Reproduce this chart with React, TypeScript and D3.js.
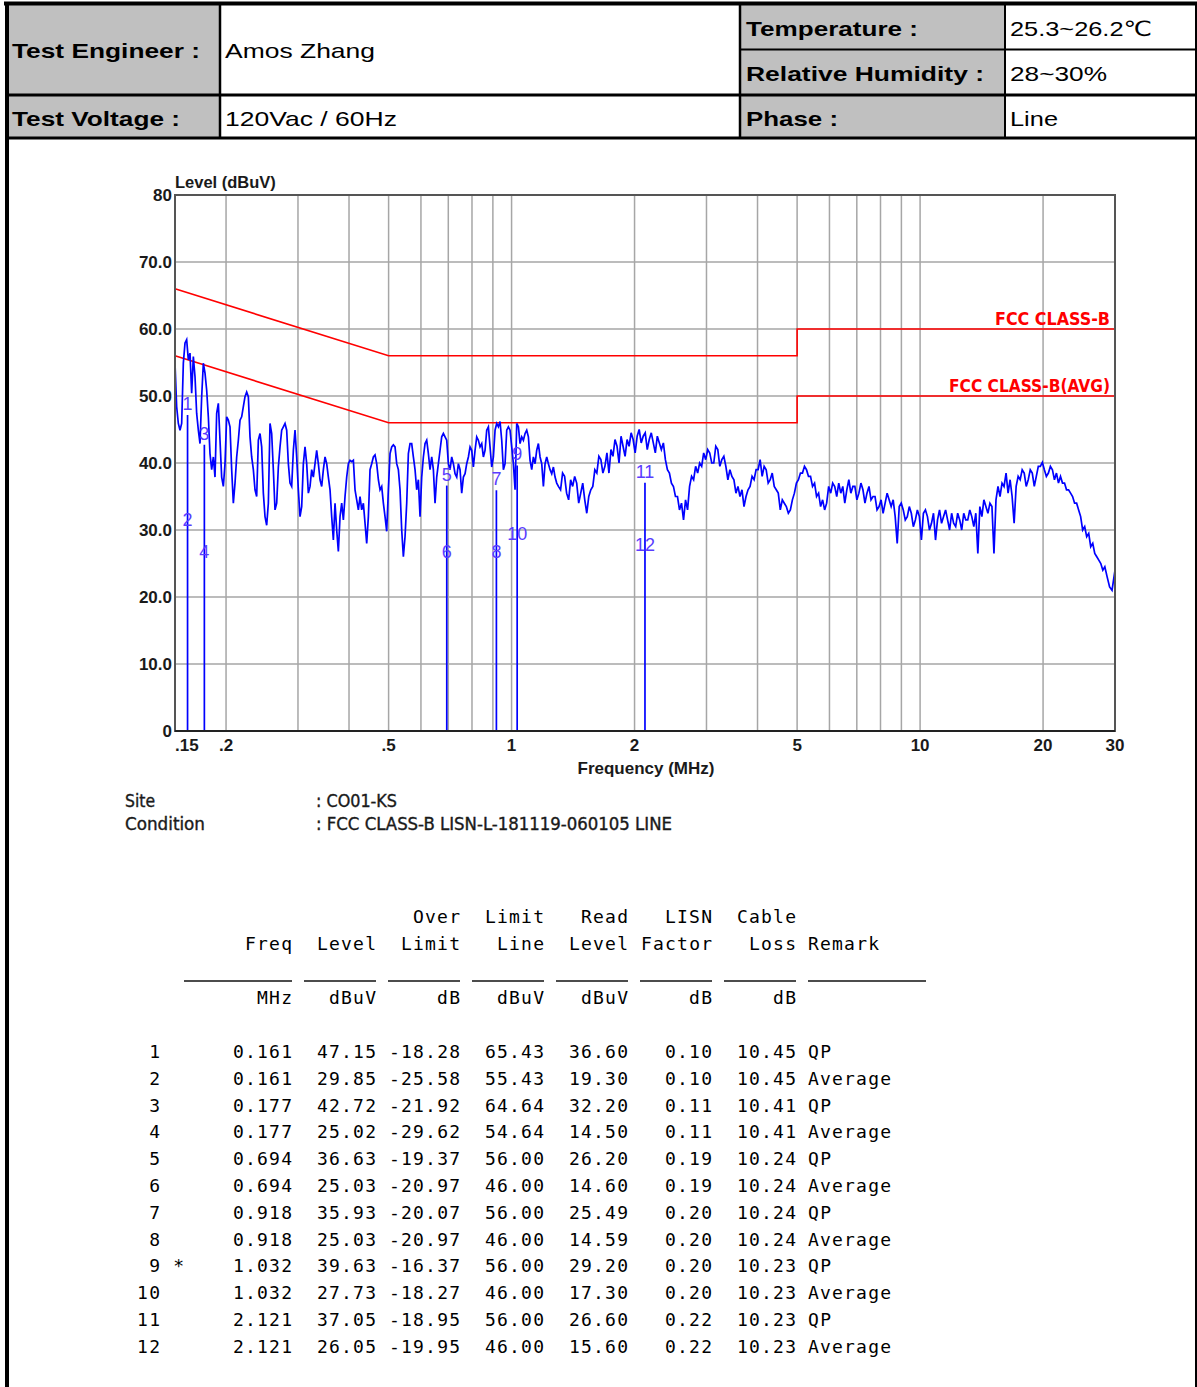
import React from "react";
import * as d3 from "d3";

// ---------------- data ----------------
const yTickValues = [0, 10, 20, 30, 40, 50, 60, 70, 80];
const yTickLabels = ["0", "10.0", "20.0", "30.0", "40.0", "50.0", "60.0", "70.0", "80"];
const xTickValues = [0.15, 0.2, 0.5, 1, 2, 5, 10, 20, 30];
const xTickLabels = [".15", ".2", ".5", "1", "2", "5", "10", "20", "30"];
const xGridValues = [0.2, 0.3, 0.4, 0.5, 0.6, 0.7, 0.8, 0.9, 1, 2, 3, 4, 5, 6, 7, 8, 9, 10, 20];

const qpLimitFreq = [0.15, 0.5, 5, 5, 30];
const qpLimitLevel = [66, 56, 56, 60, 60];
const avgLimitFreq = [0.15, 0.5, 5, 5, 30];
const avgLimitLevel = [56, 46, 46, 50, 50];

// sweep segment A: 0.15 .. 1.302 MHz (log-spaced sweep points)
const sweepAStart = 0.15;
const sweepAEnd = 1.302;
const sweepALevels = [
  54.9, 48.4, 45.9, 44.9, 45.9, 54.9, 57.9, 58.4, 55.4, 56.4,
  50.4, 55.9, 52.9, 47.4, 44.9, 42.9, 49.9, 54.9, 53.4, 50.9,
  46.9, 41.4, 39.0, 40.9, 37.9, 47.4, 48.9, 43.4, 37.9, 36.5,
  39.9, 46.9, 46.4, 45.4, 39.0, 34.0, 37.0, 40.9, 43.4, 46.4,
  46.9, 48.4, 49.9, 50.6, 49.9, 43.9, 40.9, 39.0, 36.0, 35.0,
  43.4, 44.4, 42.4, 35.5, 32.0, 30.7, 34.0, 45.9, 44.4, 39.0,
  33.0, 34.0, 39.4, 42.4, 44.9, 45.4, 45.9, 44.9, 39.9, 37.0,
  36.5, 41.9, 44.9, 40.9, 36.0, 32.0, 33.5, 39.9, 42.4, 39.9,
  35.5, 36.5, 39.0, 37.9, 39.9, 41.9, 39.9, 37.5, 36.5, 39.0,
  40.9, 39.9, 37.9, 36.0, 32.0, 28.5, 34.0, 30.0, 26.8, 32.0,
  34.0, 31.5, 35.0, 37.9, 39.9, 40.4, 40.2, 40.4, 36.0, 34.5,
  33.0, 35.0, 33.0, 34.0, 31.0, 28.0, 32.0, 39.0, 39.9, 40.9,
  41.2, 39.9, 37.5, 36.0, 36.5, 34.0, 32.0, 29.8, 36.0, 41.4,
  42.4, 42.7, 42.4, 39.9, 39.0, 36.0, 30.0, 26.0, 29.0, 34.0,
  41.4, 42.9, 42.9, 40.9, 39.0, 36.0, 37.5, 32.0, 37.9, 40.9,
  42.9, 43.4, 41.4, 39.0, 40.9, 39.0, 34.0, 37.9, 39.9, 41.9,
  43.9, 44.4, 43.9, 43.4, 39.9, 39.0, 40.9, 39.9, 38.4, 37.9,
  39.9, 39.0, 35.5, 37.9, 38.4, 39.9, 40.9, 42.4, 41.9, 39.4,
  41.9, 43.9, 43.4, 42.4, 42.9, 40.9, 41.9, 44.9, 45.4, 42.4,
  39.4, 40.9, 44.9, 45.9, 45.4, 46.2, 43.4, 39.0, 39.9, 44.9,
  45.4, 44.9, 42.4, 39.9, 36.0, 45.9, 45.4, 42.9, 43.9, 43.4,
  44.4, 44.9, 43.9, 40.4, 39.0, 40.9, 39.9, 41.9, 42.9, 40.9,
  39.9, 36.5, 39.9, 40.9, 39.9, 39.0, 38.4, 39.4, 37.9, 37.0,
  36.5,
];

// sweep segment B: 1.318 .. 28.33 MHz
const sweepBStart = 1.318;
const sweepBEnd = 28.33;
const sweepBLevels = [
  36.0, 38.5, 38.0, 35.5, 34.5, 37.5, 36.5, 38.0, 37.0, 34.0,
  35.5, 37.0, 34.5, 32.5, 35.0, 36.0, 36.5, 39.0, 38.5, 41.0,
  40.5, 38.5, 39.5, 41.5, 38.5, 42.0, 41.0, 43.5, 42.5, 40.0,
  44.0, 42.5, 41.0, 43.5, 42.5, 44.5, 43.5, 41.5, 44.0, 45.0,
  43.0, 44.0, 44.5, 42.0, 43.5, 44.5, 43.0, 41.5, 44.0, 43.0,
  42.0, 43.0, 40.5, 39.0, 38.5, 37.0, 36.5, 35.0, 35.0, 33.0,
  34.0, 31.5, 34.5, 33.0, 36.5, 38.0, 37.5, 39.5, 38.5, 40.0,
  39.5, 41.5, 40.5, 42.0, 41.5, 40.0, 40.0, 42.5, 42.0, 39.5,
  40.5, 41.0, 39.5, 37.5, 39.0, 38.0, 37.5, 35.5, 36.5, 35.0,
  36.0, 33.5, 35.0, 36.0, 36.5, 38.0, 37.5, 39.0, 39.0, 40.5,
  38.0, 39.5, 39.0, 37.0, 37.5, 38.5, 36.5, 36.0, 35.5, 33.0,
  34.5, 34.0, 33.5, 32.5, 33.0, 34.5, 35.5, 37.0, 37.5, 38.5,
  38.5, 39.5, 39.0, 38.0, 38.0, 36.5, 37.0, 35.0, 35.5, 33.5,
  34.5, 33.0, 34.0, 36.5, 35.5, 37.0, 36.5, 35.0, 37.0, 35.5,
  36.5, 34.0, 36.0, 37.5, 35.5, 36.5, 36.5, 34.5, 35.5, 37.0,
  36.0, 34.0, 35.5, 36.5, 34.5, 35.0, 35.0, 33.0, 33.5, 34.5,
  32.5, 34.0, 35.5, 34.5, 33.5, 34.5, 32.0, 28.0, 33.5, 34.0,
  33.0, 31.5, 32.0, 33.5, 32.5, 30.5, 31.5, 33.0, 32.0, 28.5,
  32.5, 33.0, 32.0, 30.0, 31.0, 32.5, 28.5, 31.5, 33.0, 31.0,
  32.0, 33.0, 31.5, 30.0, 32.5, 31.0, 30.5, 32.5, 31.5, 30.0,
  32.5, 31.5, 31.5, 33.0, 32.0, 30.5, 32.5, 26.5, 33.5, 32.0,
  34.5, 33.5, 32.5, 34.0, 33.5, 26.5, 34.5, 36.5, 35.0, 37.0,
  36.5, 38.5, 35.5, 37.5, 35.0, 31.0, 36.5, 38.0, 37.5, 39.0,
  38.5, 36.5, 37.5, 39.0, 38.5, 36.5, 38.0, 39.5, 39.5, 40.1,
  39.0, 38.0, 38.5, 39.5, 39.0, 37.5, 38.5, 37.0, 38.0, 37.0,
  37.0, 36.0, 36.0, 35.5, 35.0, 34.0, 34.0, 33.0, 32.0, 30.0,
  30.5, 29.0, 29.5, 27.5, 28.0, 26.5, 26.0, 25.5, 25.0, 24.0,
  24.5,
];

const sweepTailFreq = [28.7, 29.1, 29.5, 29.75, 30];
const sweepTailLevel = [23.0, 21.5, 21.0, 22.5, 24.0];

// measured points table
const mkFreq = [0.161, 0.161, 0.177, 0.177, 0.694, 0.694, 0.918, 0.918, 1.032, 1.032, 2.121, 2.121];
const mkLevel = [47.15, 29.85, 42.72, 25.02, 36.63, 25.03, 35.93, 25.03, 39.63, 27.73, 37.05, 26.05];
const mkOver = [-18.28, -25.58, -21.92, -29.62, -19.37, -20.97, -20.07, -20.97, -16.37, -18.27, -18.95, -19.95];
const mkLimit = [65.43, 55.43, 64.64, 54.64, 56.0, 46.0, 56.0, 46.0, 56.0, 46.0, 56.0, 46.0];
const mkRead = [36.6, 19.3, 32.2, 14.5, 26.2, 14.6, 25.49, 14.59, 29.2, 17.3, 26.6, 15.6];
const mkLisn = [0.1, 0.1, 0.11, 0.11, 0.19, 0.19, 0.2, 0.2, 0.2, 0.2, 0.22, 0.22];
const mkCable = [10.45, 10.45, 10.41, 10.41, 10.24, 10.24, 10.24, 10.24, 10.23, 10.23, 10.23, 10.23];
const mkRemark = ["QP", "Average", "QP", "Average", "QP", "Average", "QP", "Average", "QP", "Average", "QP", "Average"];
const mkStar = [false, false, false, false, false, false, false, false, true, false, false, false];

const headerTop1 = ["", "", "", "Over", "Limit", "Read", "LISN", "Cable"];
const headerTop2 = ["", "Freq", "Level", "Limit", "Line", "Level", "Factor", "Loss"];
const headerUnits = ["", "MHz", "dBuV", "dB", "dBuV", "dBuV", "dB", "dB"];

// ---------------- helpers ----------------
const SANS = "'Liberation Sans', Arial, 'DejaVu Sans', sans-serif";
const NARROW = "'Liberation Sans Narrow', 'Arial Narrow', 'DejaVu Sans Condensed', 'Liberation Sans', sans-serif";
const MONO = "'DejaVu Sans Mono', 'Liberation Mono', monospace";

function sweep(fStart: number, fEnd: number, levels: number[]): [number, number][] {
  const n = levels.length;
  return levels.map((v, i) => [fStart * Math.pow(fEnd / fStart, i / (n - 1)), v]);
}

const CW = 12; // mono char pitch
const colRight = [160, 292, 376, 460, 544, 628, 712, 796];
const remarkLeft = 808;

function MonoText({ text, right, y, anchorStart }: { text: string; right: number; y: number; anchorStart?: boolean }) {
  if (!text) return null;
  return (
    <text
      x={right}
      y={y}
      textAnchor={anchorStart ? "start" : "end"}
      fontFamily={MONO}
      fontSize={18}
      fill="#000"
      textLength={text.length * CW - 1}
      lengthAdjust="spacing"
    >
      {text}
    </text>
  );
}

function HText({ x, y, text, w, bold }: { x: number; y: number; text: string; w: number; bold?: boolean }) {
  return (
    <text
      x={x}
      y={y}
      fontFamily={SANS}
      fontSize={21}
      fontWeight={bold ? "bold" : "normal"}
      fill="#000"
      textLength={w}
      lengthAdjust="spacingAndGlyphs"
    >
      {text}
    </text>
  );
}

export default function App() {
  const L = 175, R = 1115, T = 195, B = 731;
  const x = d3.scaleLog().domain([0.15, 30]).range([L, R]);
  const y = d3.scaleLinear().domain([0, 80]).range([B, T]);

  const line = d3
    .line<[number, number]>()
    .x((d) => x(d[0]))
    .y((d) => y(d[1]));

  const trace: [number, number][] = [
    ...sweep(sweepAStart, sweepAEnd, sweepALevels),
    ...sweep(sweepBStart, sweepBEnd, sweepBLevels),
    ...sweepTailFreq.map((f, i) => [f, sweepTailLevel[i]] as [number, number]),
  ];
  const qp: [number, number][] = qpLimitFreq.map((f, i) => [f, qpLimitLevel[i]]);
  const avg: [number, number][] = avgLimitFreq.map((f, i) => [f, avgLimitLevel[i]]);

  // marker stems: one per distinct frequency up to max level
  const stemMap = new Map<number, number>();
  mkFreq.forEach((f, i) => stemMap.set(f, Math.max(stemMap.get(f) ?? 0, mkLevel[i])));
  const stems = Array.from(stemMap.entries());

  const rowY0 = 1058;
  const rowStep = 26.8;

  return (
    <svg
      width={1197}
      height={1387}
      viewBox="0 0 1197 1387"
      style={{ position: "absolute", left: 0, top: 0, background: "#fff" }}
    >
      <rect x={0} y={0} width={1197} height={1387} fill="#fff" />

      {/* ---------- header table ---------- */}
      <rect x={8} y={5} width={212} height={90} fill="#c0c0c0" />
      <rect x={8} y={95} width={212} height={43} fill="#c0c0c0" />
      <rect x={740} y={5} width={265} height={133} fill="#c0c0c0" />
      <g stroke="#000" fill="none">
        <line x1={4} y1={3.5} x2={1197} y2={3.5} strokeWidth={4} />
        <line x1={7} y1={2} x2={7} y2={1387} strokeWidth={4} />
        <line x1={1196} y1={2} x2={1196} y2={1387} strokeWidth={2} />
        <line x1={7} y1={95} x2={1197} y2={95} strokeWidth={3} />
        <line x1={740} y1={49.5} x2={1197} y2={49.5} strokeWidth={2} />
        <line x1={7} y1={138} x2={1197} y2={138} strokeWidth={3} />
        <line x1={220} y1={4} x2={220} y2={138} strokeWidth={2.5} />
        <line x1={740} y1={4} x2={740} y2={138} strokeWidth={2.5} />
        <line x1={1005} y1={4} x2={1005} y2={138} strokeWidth={2} />
      </g>
      <HText x={12} y={58} text="Test Engineer :" w={188} bold />
      <HText x={225} y={58} text="Amos Zhang" w={150} />
      <HText x={12} y={126} text="Test Voltage :" w={168} bold />
      <HText x={225} y={126} text="120Vac / 60Hz" w={172} />
      <HText x={746} y={36} text="Temperature :" w={172} bold />
      <HText x={1010} y={36} text="25.3~26.2℃" w={142} />
      <HText x={746} y={81} text="Relative Humidity :" w={238} bold />
      <HText x={1010} y={81} text="28~30%" w={97} />
      <HText x={746} y={126} text="Phase :" w={92} bold />
      <HText x={1010} y={126} text="Line" w={48} />

      {/* ---------- plot grid ---------- */}
      <g stroke="#a6a6a6" strokeWidth={1.5}>
        {xGridValues.map((v) => (
          <line key={"gx" + v} x1={x(v)} x2={x(v)} y1={T} y2={B} />
        ))}
        {yTickValues.slice(1, -1).map((v) => (
          <line key={"gy" + v} x1={L} x2={R} y1={y(v)} y2={y(v)} />
        ))}
      </g>

      {/* limit lines */}
      <path d={line(qp) || ""} fill="none" stroke="#ff0000" strokeWidth={1.6} />
      <path d={line(avg) || ""} fill="none" stroke="#ff0000" strokeWidth={1.6} />

      {/* trace */}
      <path d={line(trace) || ""} fill="none" stroke="#0000ff" strokeWidth={1.7} strokeLinejoin="miter" />

      {/* marker stems */}
      <g stroke="#0000ff" strokeWidth={1.7}>
        {stems.map(([f, lv]) => (
          <line key={"st" + f} x1={x(f)} x2={x(f)} y1={y(0)} y2={y(lv)} />
        ))}
      </g>
      {mkFreq.map((f, i) => (
        <text
          key={"ml" + i}
          x={x(f)}
          y={y(mkLevel[i]) - 5}
          textAnchor="middle"
          fontFamily={SANS}
          fontSize={18}
          fill="#5a3cff"
        >
          {String(i + 1)}
        </text>
      ))}

      {/* frame */}
      <rect x={L} y={T} width={R - L} height={B - T} fill="none" stroke="#555" strokeWidth={2} />
      <line x1={L} x2={R} y1={B} y2={B} stroke="#222" strokeWidth={2} />

      {/* limit labels */}
      <text x={1110} y={325} textAnchor="end" fontFamily={NARROW} fontWeight="bold" fontSize={17} fill="#ff0000" textLength={115} lengthAdjust="spacingAndGlyphs">
        FCC CLASS-B
      </text>
      <text x={1110} y={392} textAnchor="end" fontFamily={NARROW} fontWeight="bold" fontSize={17} fill="#ff0000" textLength={161} lengthAdjust="spacingAndGlyphs">
        FCC CLASS-B(AVG)
      </text>

      {/* axes labels */}
      {yTickValues.map((v, i) => (
        <text key={"yl" + v} x={172} y={y(v) + 6} textAnchor="end" fontFamily={SANS} fontWeight="bold" fontSize={17} fill="#1a1a1a">
          {yTickLabels[i]}
        </text>
      ))}
      <text x={175} y={188} fontFamily={SANS} fontWeight="bold" fontSize={16.5} fill="#1a1a1a">
        Level (dBuV)
      </text>
      {xTickValues.map((v, i) => (
        <text
          key={"xl" + v}
          x={x(v)}
          y={751}
          textAnchor={i === 0 ? "start" : "middle"}
          fontFamily={SANS}
          fontWeight="bold"
          fontSize={17}
          fill="#1a1a1a"
        >
          {xTickLabels[i]}
        </text>
      ))}
      <text x={646} y={774} textAnchor="middle" fontFamily={SANS} fontWeight="bold" fontSize={17} fill="#1a1a1a">
        Frequency (MHz)
      </text>

      {/* site / condition */}
      <g fontFamily={NARROW} fontSize={17} fill="#1a1a1a" fontWeight="normal" stroke="#1a1a1a" strokeWidth={0.35}>
        <text x={125} y={807} textLength={30} lengthAdjust="spacingAndGlyphs">Site</text>
        <text x={125} y={830} textLength={80} lengthAdjust="spacingAndGlyphs">Condition</text>
        <text x={316} y={807} textLength={81} lengthAdjust="spacingAndGlyphs">: CO01-KS</text>
        <text x={316} y={830} textLength={356} lengthAdjust="spacingAndGlyphs">
          : FCC CLASS-B LISN-L-181119-060105 LINE
        </text>
      </g>

      {/* ---------- results table ---------- */}
      {headerTop1.map((t, c) => (
        <MonoText key={"h1" + c} text={t} right={colRight[c]} y={923} />
      ))}
      {headerTop2.map((t, c) => (
        <MonoText key={"h2" + c} text={t} right={colRight[c]} y={950} />
      ))}
      <MonoText text="Remark" right={remarkLeft} y={950} anchorStart />
      <g stroke="#111" strokeWidth={1.5}>
        <line x1={184} x2={292} y1={981} y2={981} />
        {colRight.slice(2).map((r) => (
          <line key={"ul" + r} x1={r - 72} x2={r} y1={981} y2={981} />
        ))}
        <line x1={808} x2={926} y1={981} y2={981} />
      </g>
      {headerUnits.map((t, c) => (
        <MonoText key={"hu" + c} text={t} right={colRight[c]} y={1004} />
      ))}

      {mkFreq.map((f, i) => {
        const yy = rowY0 + rowStep * i;
        const cells = [
          String(i + 1),
          f.toFixed(3),
          mkLevel[i].toFixed(2),
          mkOver[i].toFixed(2),
          mkLimit[i].toFixed(2),
          mkRead[i].toFixed(2),
          mkLisn[i].toFixed(2),
          mkCable[i].toFixed(2),
        ];
        return (
          <g key={"row" + i}>
            {cells.map((t, c) => (
              <MonoText key={c} text={t} right={colRight[c]} y={yy} />
            ))}
            {mkStar[i] && <MonoText text="*" right={184} y={yy} />}
            <MonoText text={mkRemark[i]} right={remarkLeft} y={yy} anchorStart />
          </g>
        );
      })}
    </svg>
  );
}
